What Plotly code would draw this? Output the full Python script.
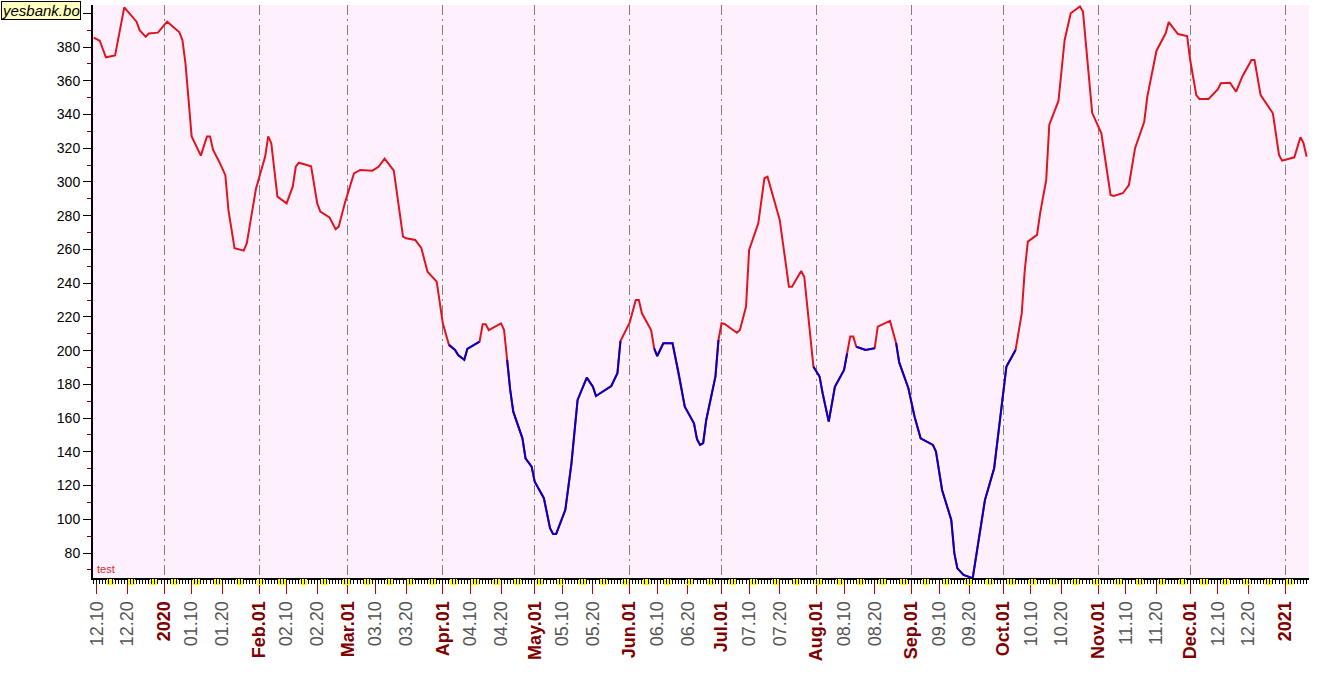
import plotly.graph_objects as go
import pandas as pd

# series (date, value)
dates = [
    "2019-12-09", "2019-12-11", "2019-12-13", "2019-12-16", "2019-12-19", "2019-12-23", "2019-12-24",
    "2019-12-26", "2019-12-27", "2019-12-30",
    "2020-01-01", "2020-01-02", "2020-01-06", "2020-01-07", "2020-01-08", "2020-01-10", "2020-01-13",
    "2020-01-15", "2020-01-16", "2020-01-17", "2020-01-19", "2020-01-21", "2020-01-22", "2020-01-24",
    "2020-01-27", "2020-01-28", "2020-01-31",
    "2020-02-03", "2020-02-04", "2020-02-05", "2020-02-07", "2020-02-10", "2020-02-12", "2020-02-13",
    "2020-02-14", "2020-02-18", "2020-02-20", "2020-02-21", "2020-02-24", "2020-02-26", "2020-02-27",
    "2020-02-29",
    "2020-03-02", "2020-03-03", "2020-03-05", "2020-03-09", "2020-03-11", "2020-03-13", "2020-03-16",
    "2020-03-19", "2020-03-20", "2020-03-23", "2020-03-25", "2020-03-27", "2020-03-30",
    "2020-04-01", "2020-04-03", "2020-04-05", "2020-04-06", "2020-04-08", "2020-04-09", "2020-04-13",
    "2020-04-14", "2020-04-15", "2020-04-16", "2020-04-20", "2020-04-21", "2020-04-22", "2020-04-23",
    "2020-04-24", "2020-04-27", "2020-04-28", "2020-04-30",
    "2020-05-01", "2020-05-04", "2020-05-06", "2020-05-07", "2020-05-08", "2020-05-11", "2020-05-13",
    "2020-05-15", "2020-05-18", "2020-05-20", "2020-05-21", "2020-05-24", "2020-05-26", "2020-05-28",
    "2020-05-29",
    "2020-06-01", "2020-06-03", "2020-06-04", "2020-06-05", "2020-06-08", "2020-06-09", "2020-06-10",
    "2020-06-12", "2020-06-15", "2020-06-17", "2020-06-19", "2020-06-22", "2020-06-23", "2020-06-24",
    "2020-06-25", "2020-06-26", "2020-06-27", "2020-06-29", "2020-06-30",
    "2020-07-01", "2020-07-02", "2020-07-06", "2020-07-07", "2020-07-09", "2020-07-10", "2020-07-13",
    "2020-07-15", "2020-07-16", "2020-07-20", "2020-07-23", "2020-07-24", "2020-07-27", "2020-07-28",
    "2020-07-31",
    "2020-08-02", "2020-08-03", "2020-08-05", "2020-08-07", "2020-08-10", "2020-08-11", "2020-08-12",
    "2020-08-13", "2020-08-14", "2020-08-17", "2020-08-20", "2020-08-21", "2020-08-25", "2020-08-27",
    "2020-08-28", "2020-08-31",
    "2020-09-02", "2020-09-04", "2020-09-08", "2020-09-09", "2020-09-11", "2020-09-14", "2020-09-15",
    "2020-09-16", "2020-09-18", "2020-09-21", "2020-09-23", "2020-09-25", "2020-09-28", "2020-09-30",
    "2020-10-02", "2020-10-05", "2020-10-07", "2020-10-08", "2020-10-09", "2020-10-12", "2020-10-13",
    "2020-10-15", "2020-10-16", "2020-10-19", "2020-10-21", "2020-10-23", "2020-10-26", "2020-10-27",
    "2020-10-29", "2020-10-30",
    "2020-11-02", "2020-11-05", "2020-11-06", "2020-11-09", "2020-11-11", "2020-11-13", "2020-11-16",
    "2020-11-17", "2020-11-20", "2020-11-23", "2020-11-24", "2020-11-27", "2020-11-30",
    "2020-12-01", "2020-12-03", "2020-12-04", "2020-12-07", "2020-12-10", "2020-12-11", "2020-12-14",
    "2020-12-16", "2020-12-18", "2020-12-21", "2020-12-22", "2020-12-24", "2020-12-28", "2020-12-30",
    "2020-12-31",
    "2021-01-04", "2021-01-06", "2021-01-07", "2021-01-08",
]
values = [
    385.5, 383.7, 373.9, 375.0, 403.5, 395.0, 390.0,
    386.0, 388.0, 388.5,
    393.0, 395.0, 388.7, 384.0, 370.0, 327.0, 315.6,
    327.0, 327.0, 319.0, 312.0, 304.0, 283.4, 260.7,
    259.3, 263.6, 296.0,
    315.0, 327.0, 323.0, 291.3, 287.3, 297.2, 309.0,
    311.4, 309.3, 287.3, 282.4, 279.0, 272.0, 273.5,
    287.3,
    299.2, 305.1, 307.1, 306.7, 309.0, 313.8, 306.7,
    267.6, 266.6, 265.6, 260.7, 246.8, 240.9,
    216.2, 203.4, 200.4, 197.4, 194.5, 201.0, 205.3,
    215.6, 215.6, 212.2, 216.2, 212.2, 194.5, 176.7,
    163.8, 148.0, 136.2, 131.2,
    122.3, 112.5, 94.7, 91.3, 91.3, 105.6, 133.2,
    170.8, 184.0, 178.6, 173.1, 176.7, 179.0, 186.6,
    205.7,
    216.6, 230.0, 230.0, 222.1, 212.2, 201.4, 196.8,
    204.4, 204.4, 186.6, 166.8, 156.9, 147.4, 144.1,
    145.1, 158.9, 167.8, 184.6, 206.3,
    216.2, 215.8, 210.6, 212.2, 226.1, 259.7, 275.5,
    302.2, 303.1, 277.5, 237.9, 237.9, 247.2, 243.8,
    190.5,
    184.6, 174.7, 157.9, 178.6, 188.5, 198.4, 208.3,
    208.3, 202.3, 200.4, 201.4, 214.2, 217.6, 204.4,
    193.0, 177.7,
    160.9, 148.0, 144.1, 140.1, 117.4, 99.6, 79.9,
    70.9, 67.0, 65.1, 87.8, 111.5, 130.3, 158.9,
    190.5, 200.4, 222.1, 247.8, 264.6, 268.6, 281.4,
    301.2, 334.0, 348.0, 384.0, 400.0, 404.0, 401.0,
    363.0, 341.0,
    328.8, 292.3, 291.7, 293.3, 298.2, 320.0, 335.7,
    350.5, 377.8, 388.1, 394.8, 387.7, 386.5,
    372.3, 351.5, 349.2, 349.2, 354.9, 358.5, 358.8,
    353.5, 362.4, 372.3, 372.3, 351.5, 340.7, 316.0,
    312.6,
    314.6, 326.5, 323.0, 315.0,
]

# stretches drawn in blue
blue_spans = [
    ("2020-04-03", "2020-04-13"),
    ("2020-04-22", "2020-05-29"),
    ("2020-06-09", "2020-06-30"),
    ("2020-07-31", "2020-08-11"),
    ("2020-08-14", "2020-08-20"),
    ("2020-08-27", "2020-10-05"),
]

month_starts = ["2020-01-01", "2020-02-01", "2020-03-01", "2020-04-01", "2020-05-01", "2020-06-01",
                "2020-07-01", "2020-08-01", "2020-09-01", "2020-10-01", "2020-11-01", "2020-12-01",
                "2021-01-01"]
month_labels = ["2020", "Feb.01", "Mar.01", "Apr.01", "May.01", "Jun.01", "Jul.01", "Aug.01",
                "Sep.01", "Oct.01", "Nov.01", "Dec.01", "2021"]
day_ticks = ["2019-12-10", "2019-12-20"] + [m[:8] + d for m in month_starts[:-1] for d in ("10", "20")]

x_range = ["2019-12-08 19:00", "2021-01-08 19:00"]

tickvals = month_starts + day_ticks
ticktext = ["<b><span style='color:#800000'>%s</span></b>" % t for t in month_labels] + \
           [d[5:7] + "." + d[8:10] for d in day_ticks]

weekends = [d.strftime("%Y-%m-%d") for d in pd.date_range(x_range[0][:10], x_range[1][:10])
            if d.dayofweek >= 5]

df = pd.DataFrame({"date": pd.to_datetime(dates), "value": values})
in_blue = pd.Series(False, index=df.index)
for a, b in blue_spans:
    in_blue |= (df["date"] >= a) & (df["date"] <= b)
blue_vals = df["value"].where(in_blue)

fig = go.Figure()
fig.add_trace(go.Scatter(x=df["date"], y=df["value"], mode="lines",
                         line=dict(color="#E0141E", width=2), showlegend=False, hoverinfo="skip"))
fig.add_trace(go.Scatter(x=df["date"], y=blue_vals, mode="lines", connectgaps=False,
                         line=dict(color="#0000CC", width=2), showlegend=False, hoverinfo="skip"))
# empty traces so the overlay axes get drawn
for ax in ("x2", "x3", "x4"):
    fig.add_trace(go.Scatter(x=[dates[0]], y=[None], xaxis=ax, mode="lines",
                             showlegend=False, hoverinfo="skip"))

font = "Liberation Sans, Arial, sans-serif"

fig.update_layout(
    width=1319, height=689,
    margin=dict(l=93, r=10, t=5, b=111),
    paper_bgcolor="white",
    plot_bgcolor="#FFF0FE",
    xaxis=dict(
        type="date", range=x_range,
        tickmode="array", tickvals=tickvals, ticktext=ticktext,
        tickangle=-90, tickfont=dict(family=font, size=18, color="#555555"),
        ticks="outside", ticklen=14, tickcolor="#CC0000", tickwidth=1,
        showline=True, linecolor="black", linewidth=2,
        showgrid=False, zeroline=False,
    ),
    xaxis2=dict(
        type="date", range=x_range, overlaying="x", anchor="y", side="bottom",
        tickmode="array", tickvals=month_starts, showticklabels=False, ticks="",
        showgrid=True, gridcolor="#808080", gridwidth=1, griddash="10px,4px,2px,4px",
        zeroline=False, showline=False,
    ),
    xaxis3=dict(
        type="date", range=x_range, overlaying="x", anchor="y", side="bottom",
        tickmode="array", tickvals=weekends, showticklabels=False,
        ticks="outside", ticklen=6, tickwidth=4, tickcolor="#FFFF00",
        showgrid=False, zeroline=False, showline=False,
    ),
    xaxis4=dict(
        type="date", range=x_range, overlaying="x", anchor="y", side="bottom",
        tickmode="linear", tick0="2019-12-01", dtick=86400000, showticklabels=False,
        ticks="outside", ticklen=5, tickwidth=1, tickcolor="black",
        showgrid=False, zeroline=False, showline=False,
    ),
    yaxis=dict(
        range=[65.2, 404.9], tick0=0, dtick=20,
        ticks="outside", ticklen=8, tickcolor="black",
        tickfont=dict(family=font, size=14, color="black"),
        minor=dict(dtick=10, ticklen=4, tickcolor="#800000", ticks="outside"),
        showline=True, linecolor="black", linewidth=2,
        showgrid=False, zeroline=False,
    ),
    annotations=[
        dict(text="<i>yesbank.bo</i>", xref="paper", yref="paper", x=-0.0757, y=1.007,
             xanchor="left", yanchor="top", showarrow=False,
             font=dict(family=font, size=15, color="black"),
             bgcolor="#FFFFC0", bordercolor="black", borderwidth=1, borderpad=0),
        dict(text="test", xref="paper", yref="paper", x=0.002, y=0.002,
             xanchor="left", yanchor="bottom", showarrow=False,
             font=dict(family=font, size=11, color="#CC3333")),
    ],
)

fig.write_html("out.html", config={"displayModeBar": False},
               post_script="document.body.style.margin='0';")
